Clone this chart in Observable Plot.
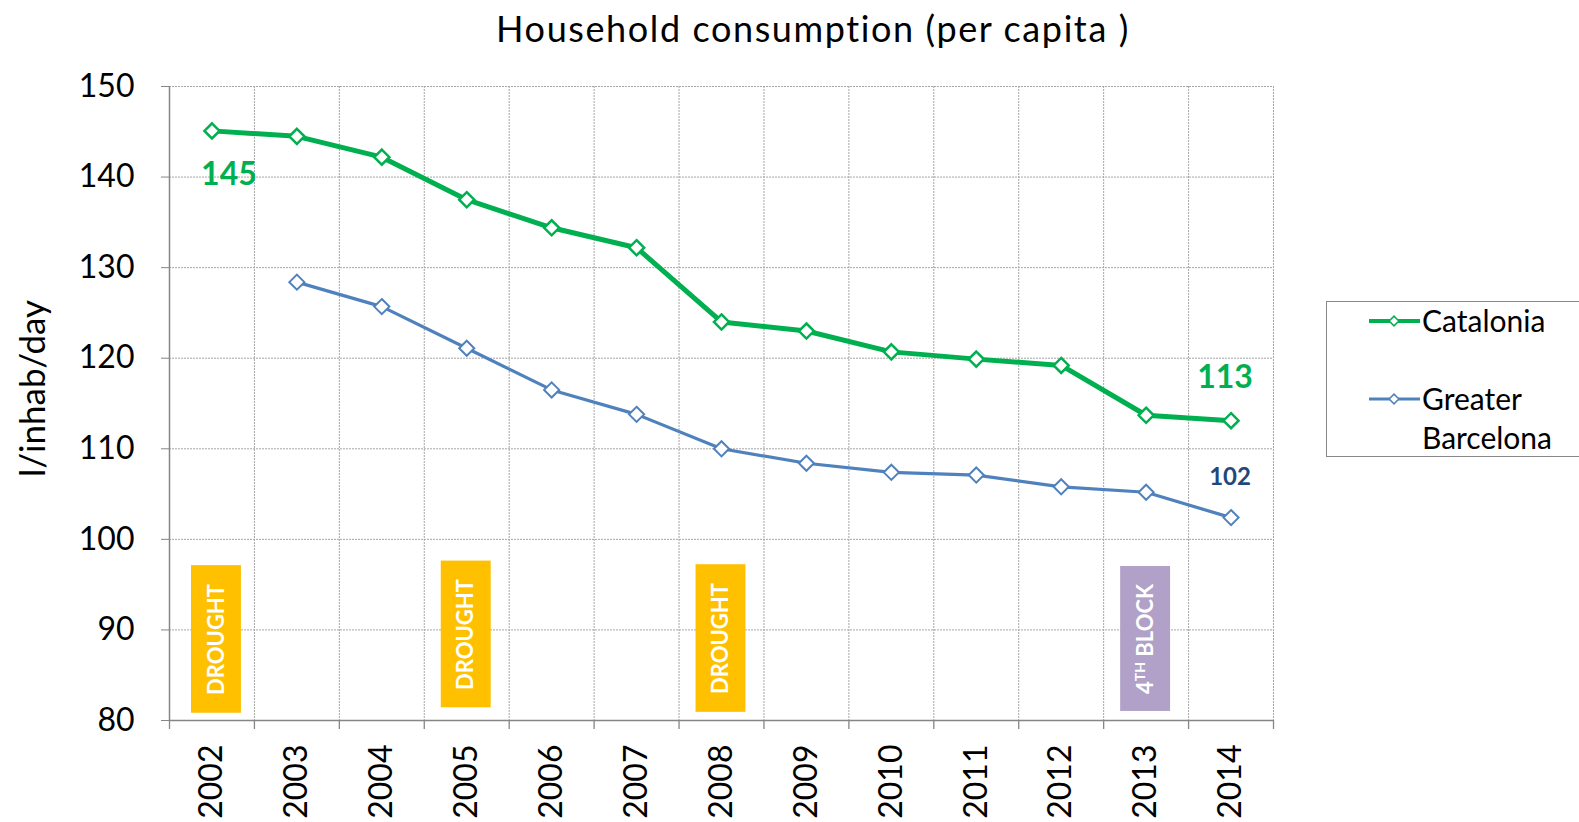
<!DOCTYPE html>
<html>
<head>
<meta charset="utf-8">
<script src="https://cdn.jsdelivr.net/npm/d3@7"></script>
<script src="https://cdn.jsdelivr.net/npm/@observablehq/plot@0.6"></script>
<style>
  body { margin: 0; background: #fff; }
  #wrap { position: relative; width: 1579px; height: 822px; overflow: hidden; background: #fff; }
  #title { position: absolute; left: 813px; top: 7px; transform: translateX(-50%); white-space: nowrap;
           font-family: Lato, "Open Sans", sans-serif; font-size: 36px; letter-spacing: 1.6px; line-height: 42px; color: #000; }
  #chart { position: absolute; left: 0; top: 60px; }
  #legend { position: absolute; left: 1326px; top: 301px; }
</style>
</head>
<body>
<div id="wrap">
  <div id="title">Household consumption (per capita )</div>
  <div id="chart"></div>
  <div id="legend"></div>
</div>
<script>
// ---------- data ----------
const years = ["2002","2003","2004","2005","2006","2007","2008","2009","2010","2011","2012","2013","2014"];
const catalonia = [145.1, 144.5, 142.2, 137.5, 134.4, 132.2, 124.0, 123.0, 120.7, 119.9, 119.2, 113.7, 113.1];
const greaterBarcelona = [null, 128.4, 125.7, 121.1, 116.5, 113.8, 110.0, 108.4, 107.4, 107.1, 105.8, 105.2, 102.4];
const yTicks = [80, 90, 100, 110, 120, 130, 140, 150];
const seriesNames = ["Catalonia", "Greater Barcelona"];
const seriesColors = ["#00B050", "#4F81BD"];

const boxYears = ["2002", "2005", "2008", "2013"];
const boxLabels = ["DROUGHT", "DROUGHT", "DROUGHT", "4TH BLOCK"];
const boxTop = [97.1, 97.6, 97.2, 97.0];
const boxBottom = [80.8, 81.4, 80.9, 81.0];
const boxColors = ["#FFC000", "#FFC000", "#FFC000", "#B1A0C7"];

const labelYears = ["2002", "2014", "2014"];
const labelValues = [145.1, 113.1, 102.4];
const labelTexts = ["145", "113", "102"];

const yTitle = "l/inhab/day";

// ---------- build ----------
const W = 1579, H = 762;
const mL = 169, mR = 306, mT = 26, mB = 102;
const bw = (W - mL - mR) / years.length;
const frameH = H - mT - mB;

const rows = years.map((y, i) => ({year: y, cat: catalonia[i], gb: greaterBarcelona[i]}));
const gbRows = rows.filter(d => d.gb != null);
const boxes = boxYears.map((y, i) => ({year: y, label: boxLabels[i], top: boxTop[i], bottom: boxBottom[i], color: boxColors[i]}));
const labels = labelYears.map((y, i) => ({year: y, value: labelValues[i], text: labelTexts[i]}));

const gridStyle = {stroke: "#a6a6a6", strokeWidth: 1, strokeDasharray: "2,1"};
const axisStroke = "#868686";
const calib = "Lato, 'Open Sans', sans-serif";

const chart = Plot.plot({
  width: W, height: H,
  marginLeft: mL, marginRight: mR, marginTop: mT, marginBottom: mB,
  style: {fontFamily: calib, background: "transparent", overflow: "visible", color: "#000"},
  x: {type: "band", domain: years, padding: 0, round: false},
  y: {domain: [80, 150]},
  marks: [
    // grid
    Plot.ruleY(yTicks.slice(1), {...gridStyle}),
    Plot.ruleX(years.slice(1), {dx: -bw / 2, ...gridStyle}),
    Plot.ruleX(years.slice(-1), {dx: bw / 2, ...gridStyle}),
    // annotation boxes
    Plot.barY(boxes.slice(0, 1), {x: "year", y1: "bottom", y2: "top", fill: "color", insetLeft: 22, insetRight: 13}),
    Plot.barY(boxes.slice(1), {x: "year", y1: "bottom", y2: "top", fill: "color", insetLeft: 17, insetRight: 18}),
    Plot.text(boxes.slice(0, 1), {x: "year", y: d => (d.top + d.bottom) / 2, text: "label", rotate: -90, dx: 5,
      fill: "white", fontWeight: "bold", fontSize: 22, fontFamily: "Lato"}),
    Plot.text(boxes.slice(1), {x: "year", y: d => (d.top + d.bottom) / 2, text: "label", rotate: -90, dx: -0.5,
      fill: "white", fontWeight: "bold", fontSize: 22, fontFamily: "Lato"}),
    // series
    Plot.line(gbRows, {x: "year", y: "gb", stroke: seriesColors[1], strokeWidth: 3.2}),
    Plot.dot(gbRows, {x: "year", y: "gb", symbol: "diamond2", r: 6.8, fill: "white", stroke: seriesColors[1], strokeWidth: 2}),
    Plot.line(rows, {x: "year", y: "cat", stroke: seriesColors[0], strokeWidth: 5}),
    Plot.dot(rows, {x: "year", y: "cat", symbol: "diamond2", r: 6.8, fill: "white", stroke: seriesColors[0], strokeWidth: 2.5}),
    // value labels
    Plot.text(labels.slice(0, 1), {x: "year", y: "value", text: "text", dx: 17, dy: 44, fill: "#00B050", fontWeight: "bold", fontSize: 32, fontFamily: "Lato"}),
    Plot.text(labels.slice(1, 2), {x: "year", y: "value", text: "text", dx: -6, dy: -43, fill: "#00B050", fontWeight: "bold", fontSize: 32, fontFamily: "Lato"}),
    Plot.text(labels.slice(2, 3), {x: "year", y: "value", text: "text", dx: -1, dy: -40, fill: "#1F497D", fontWeight: "bold", fontSize: 24, fontFamily: "Lato"}),
    // axes
    Plot.axisY({ticks: yTicks, tickSize: 8, tickPadding: 27, fontSize: 32, stroke: axisStroke, label: null}),
    Plot.axisX({tickSize: 0, tickRotate: -90, tickPadding: 24, fontSize: 32, label: null}),
    Plot.ruleX(years, {dx: -bw / 2, insetTop: frameH, insetBottom: -9, stroke: axisStroke, strokeWidth: 1.3}),
    Plot.ruleX(years.slice(-1), {dx: bw / 2, insetTop: frameH, insetBottom: -9, stroke: axisStroke, strokeWidth: 1.3}),
    Plot.ruleY([80], {stroke: axisStroke, strokeWidth: 1.5}),
    Plot.ruleX(years.slice(0, 1), {dx: -bw / 2, stroke: axisStroke, strokeWidth: 1.5}),
    // y title
    Plot.text([yTitle], {frameAnchor: "left", textAnchor: "middle", dx: -136, dy: -15, rotate: -90, fontSize: 35, fontFamily: "Lato"})
  ]
});
document.getElementById("chart").appendChild(chart);

// superscript for "4TH BLOCK"
d3.select(chart).selectAll("text").filter(function () { return this.textContent === "4TH BLOCK"; })
  .each(function () {
    const t = d3.select(this);
    t.text(null);
    t.append("tspan").text("4");
    t.append("tspan").attr("baseline-shift", "super").attr("font-size", "14").text("TH");
    t.append("tspan").text(" BLOCK");
  });

// ---------- legend ----------
const lg = d3.select("#legend").append("svg").attr("width", 260).attr("height", 158)
  .style("font-family", "Lato, sans-serif");
lg.append("rect").attr("x", 0.5).attr("y", 0.5).attr("width", 300).attr("height", 155)
  .attr("fill", "white").attr("stroke", "#888").attr("stroke-width", 1);
const entries = [
  {name: [seriesNames[0]], color: seriesColors[0], y: 20, w: 4},
  {name: ["Greater", "Barcelona"], color: seriesColors[1], y: 98, w: 3}
];
const diamond = d3.symbol(d3.symbolDiamond2, 60)();
entries.forEach(e => {
  lg.append("line").attr("x1", 43).attr("x2", 94).attr("y1", e.y).attr("y2", e.y)
    .attr("stroke", e.color).attr("stroke-width", e.w);
  lg.append("path").attr("d", diamond).attr("transform", `translate(68,${e.y})`)
    .attr("fill", "white").attr("stroke", e.color).attr("stroke-width", 1.5);
  e.name.forEach((n, j) => {
    lg.append("text").attr("x", 96).attr("y", e.y + j * 39).attr("dy", "0.35em")
      .attr("font-size", 30).attr("fill", "#000").text(n);
  });
});
</script>
</body>
</html>
